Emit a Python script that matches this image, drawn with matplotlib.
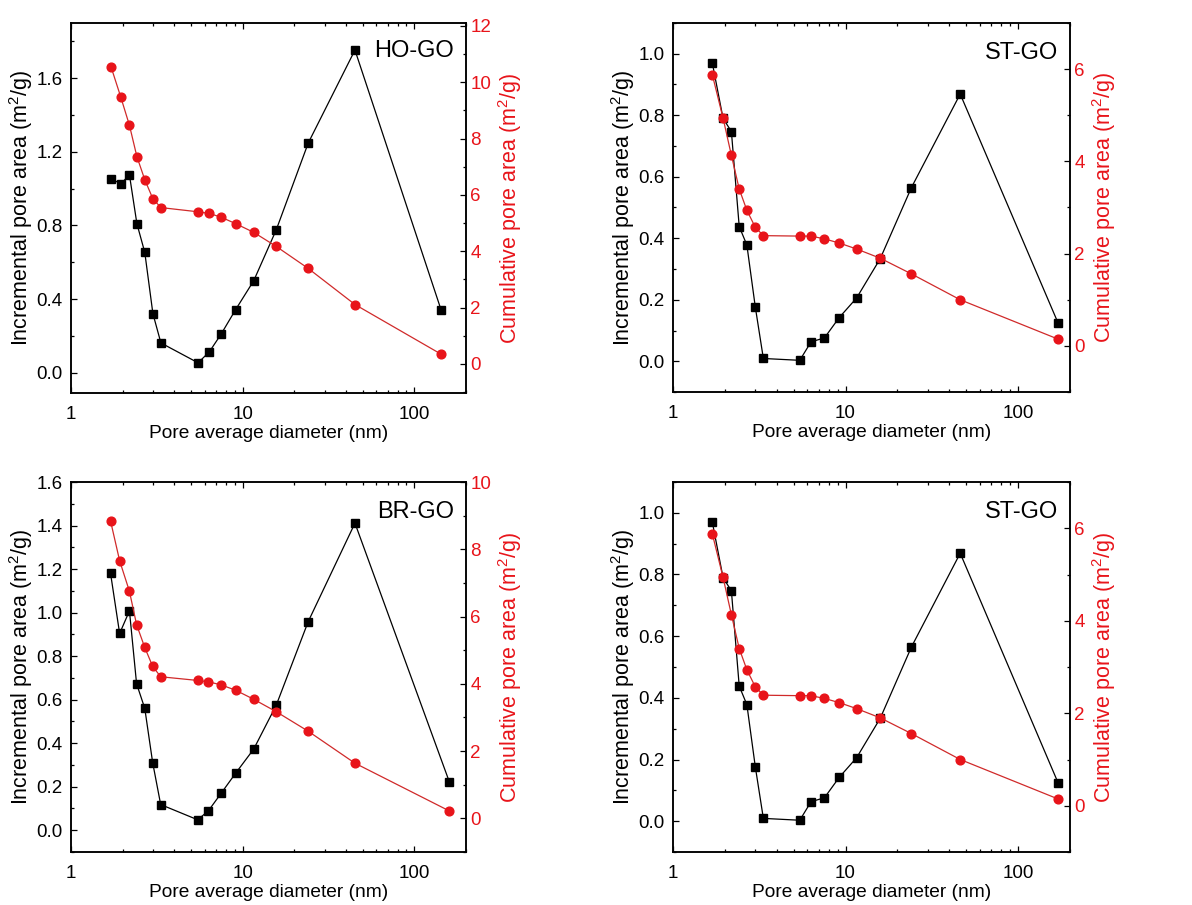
import matplotlib
matplotlib.use('agg')
import matplotlib.pyplot as plt
from matplotlib.ticker import (LogLocator, MultipleLocator, NullFormatter, FixedLocator,
                               FixedFormatter, FormatStrFormatter)

plt.rcParams['font.family'] = ['Liberation Sans', 'DejaVu Sans']

# pore diameters (nm)
d_ho = [1.71, 1.95, 2.19, 2.42, 2.69, 3.0, 3.34, 5.5, 6.4, 7.48, 9.1, 11.6, 15.7, 24.1, 45.1, 143]
d_st = [1.69, 1.95, 2.18, 2.42, 2.68, 3.0, 3.34, 5.43, 6.31, 7.55, 9.19, 11.6, 15.9, 24.1, 46.2, 171]
d_br = [1.70, 1.92, 2.19, 2.41, 2.69, 2.99, 3.33, 5.47, 6.31, 7.48, 9.1, 11.6, 15.7, 24.1, 45.1, 160]

# incremental pore area (m2/g)
inc_ho = [1.055, 1.026, 1.075, 0.81, 0.654, 0.321, 0.162, 0.054, 0.114, 0.209, 0.343, 0.50, 0.777, 1.248, 1.753, 0.343]
inc_st = [0.970, 0.79, 0.747, 0.438, 0.378, 0.176, 0.009, 0.003, 0.063, 0.076, 0.142, 0.206, 0.334, 0.565, 0.869, 0.123]
inc_br = [1.180, 0.904, 1.008, 0.673, 0.560, 0.311, 0.118, 0.048, 0.089, 0.169, 0.262, 0.373, 0.575, 0.959, 1.411, 0.222]

# cumulative pore area (m2/g)
cum_ho = [10.55, 9.47, 8.47, 7.36, 6.54, 5.86, 5.55, 5.40, 5.34, 5.21, 4.98, 4.67, 4.17, 3.39, 2.11, 0.35]
cum_st = [5.88, 4.94, 4.13, 3.40, 2.94, 2.57, 2.39, 2.38, 2.38, 2.32, 2.23, 2.10, 1.90, 1.56, 1.00, 0.145]
cum_br = [8.84, 7.66, 6.75, 5.76, 5.08, 4.52, 4.21, 4.10, 4.06, 3.97, 3.81, 3.54, 3.17, 2.59, 1.64, 0.22]

W, H = 1192, 905
RED = '#e8141a'

panels = [
    # name, d, inc, cum, box (l, r, t, b px), left ylim, left major, right ylim, right major
    ('HO-GO', d_ho, inc_ho, cum_ho, (71, 466, 23, 393), (-0.11, 1.9), 0.4, (-1.03, 12.1), 2),
    ('ST-GO', d_st, inc_st, cum_st, (673, 1070, 23, 392), (-0.1, 1.1), 0.2, (-1, 7), 2),
    ('BR-GO', d_br, inc_br, cum_br, (71, 466, 482, 852), (-0.1, 1.6), 0.2, (-1, 10), 2),
    ('ST-GO', d_st, inc_st, cum_st, (673, 1070, 482, 852), (-0.1, 1.1), 0.2, (-1, 7), 2),
]

fig = plt.figure(figsize=(W / 100, H / 100), dpi=100)

for name, d, inc, cum, (l, r, t, b), ylim1, maj1, ylim2, maj2 in panels:
    ax = fig.add_axes([l / W, 1 - b / H, (r - l) / W, (b - t) / H])
    ax.plot(d, inc, '-s', color='black', lw=0.9, ms=5.5)
    ax.set_xscale('log')
    ax.set_xlim(1, 200)
    ax.set_ylim(*ylim1)
    ax.xaxis.set_major_locator(FixedLocator([1, 10, 100]))
    ax.xaxis.set_major_formatter(FixedFormatter(['1', '10', '100']))
    ax.xaxis.set_minor_locator(LogLocator(base=10, subs=range(2, 10)))
    ax.xaxis.set_minor_formatter(NullFormatter())
    ax.yaxis.set_major_locator(MultipleLocator(maj1))
    ax.yaxis.set_minor_locator(MultipleLocator(maj1 / 2))
    ax.yaxis.set_major_formatter(FormatStrFormatter('%.1f'))
    ax.tick_params(which='both', direction='in', top=True, labelsize=13.5, width=0.9)
    ax.tick_params(axis='x', which='major', length=4, pad=9)
    ax.tick_params(axis='y', which='major', length=4, pad=6)
    ax.tick_params(which='minor', length=2.5)
    ax.set_xlabel('Pore average diameter (nm)', fontsize=13.8, labelpad=2)
    ax.set_ylabel('Incremental pore area (m$^\\mathregular{2}$/g)', fontsize=15.5, labelpad=1)
    ax.text(0.97, 0.925 if name == 'HO-GO' else 0.918, name, transform=ax.transAxes,
            ha='right', va='center', fontsize=17)

    # cumulative curve on its own axis, drawn above the incremental one
    ax2 = ax.twinx()
    ax2.plot(d, cum, '-o', color='#d02a2a', mfc=RED, mec=RED, lw=0.9, ms=6.3)
    ax2.set_ylim(*ylim2)
    ax2.yaxis.set_major_locator(MultipleLocator(maj2))
    ax2.yaxis.set_minor_locator(MultipleLocator(maj2 / 2))
    ax2.tick_params(which='both', direction='in', labelsize=13.5, labelcolor=RED, width=0.9)
    ax2.tick_params(which='major', length=4, pad=3)
    ax2.tick_params(which='minor', length=2.5)
    ax2.set_ylabel('Cumulative pore area (m$^\\mathregular{2}$/g)', fontsize=15.5, color=RED, labelpad=4)
    for sp in ax.spines.values():
        sp.set_linewidth(1.1)
    for sp in ax2.spines.values():
        sp.set_linewidth(1.1)

fig.savefig('out.png', dpi=100)
